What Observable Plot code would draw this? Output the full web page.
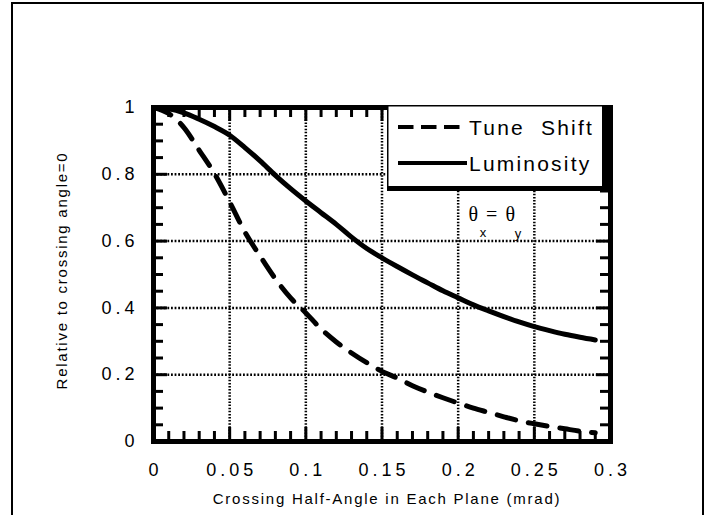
<!DOCTYPE html>
<html>
<head>
<meta charset="utf-8">
<script src="https://cdn.jsdelivr.net/npm/d3@7"></script>
<script src="https://cdn.jsdelivr.net/npm/@observablehq/plot@0.6"></script>
<style>
  html, body { margin: 0; padding: 0; background: #fff; overflow: hidden; }
  #wrap { position: relative; width: 722px; height: 515px; overflow: hidden; }
  #outer { position: absolute; left: 11px; top: 2px; width: 693px; height: 540px; border: 2px solid #000; border-bottom: none; box-sizing: border-box; }
  #legend { position: absolute; left: 387px; top: 105px; }
  #legend text { font-family: "Liberation Sans", Arial, sans-serif; font-size: 21px; letter-spacing: 2.2px; }
</style>
</head>
<body>
<div id="wrap"><div id="outer"></div></div>
<script>
// ---- data ----
const angle = [0, 0.01, 0.02, 0.03, 0.04, 0.05, 0.06, 0.07, 0.08, 0.09, 0.10, 0.11, 0.12, 0.13, 0.14,
               0.15, 0.16, 0.17, 0.18, 0.19, 0.20, 0.21, 0.22, 0.23, 0.24, 0.25, 0.26, 0.27, 0.28, 0.29];
const tuneShift = [1.0, 0.982, 0.94, 0.872, 0.802, 0.717, 0.627, 0.555, 0.487, 0.43, 0.385, 0.337, 0.298, 0.265, 0.236,
                   0.21, 0.19, 0.167, 0.148, 0.131, 0.115, 0.1, 0.087, 0.074, 0.062, 0.053, 0.045, 0.038, 0.031, 0.026];
const luminosity = [1.0, 0.996, 0.984, 0.965, 0.943, 0.917, 0.88, 0.84, 0.797, 0.757, 0.72, 0.685, 0.65, 0.612, 0.578,
                    0.55, 0.524, 0.499, 0.475, 0.451, 0.43, 0.409, 0.391, 0.374, 0.358, 0.344, 0.332, 0.321, 0.312, 0.304];
const seriesNames = ["Tune  Shift", "Luminosity"];

const xTicks = [0, 0.05, 0.1, 0.15, 0.2, 0.25, 0.3];
const xTickLabels = ["0", "0.05", "0.1", "0.15", "0.2", "0.25", "0.3"];
const yTicks = [0, 0.2, 0.4, 0.6, 0.8, 1];
const yTickLabels = ["0", "0.2", "0.4", "0.6", "0.8", "1"];
const xGrid = [0.05, 0.1, 0.15, 0.2, 0.25];
const yGrid = [0.2, 0.4, 0.6, 0.8];
const xMinor = [0.01, 0.02, 0.03, 0.04, 0.06, 0.07, 0.08, 0.09, 0.11, 0.12, 0.13, 0.14, 0.16, 0.17, 0.18, 0.19,
                0.21, 0.22, 0.23, 0.24, 0.26, 0.27, 0.28, 0.29];
const yMinor = [0.05, 0.1, 0.15, 0.25, 0.3, 0.35, 0.45, 0.5, 0.55, 0.65, 0.7, 0.75, 0.85, 0.9, 0.95];
const xTitle = ["Crossing Half-Angle in Each Plane (mrad)"];
const yTitle = ["Relative to crossing angle=0"];
const thetaText = ["θ = θ"];
const thetaSubs = ["x", "y"];

// ---- layout ----
const W = 722, H = 515;
const mL = 153, mR = 112, mT = 107, mB = 74;
const innerW = W - mL - mR, innerH = H - mT - mB;

const tuneRows = angle.map((a, i) => ({a, v: tuneShift[i]}));
const lumRows = angle.map((a, i) => ({a, v: luminosity[i]}));
const sans = "Liberation Sans, Arial, sans-serif";

const tickStyle = {stroke: "#000", strokeWidth: 3};
const minorLen = 10, majorLen = 14;

const chart = Plot.plot({
  width: W, height: H,
  marginLeft: mL, marginRight: mR, marginTop: mT, marginBottom: mB,
  style: {background: "#fff", fontFamily: sans, color: "#000"},
  x: {domain: [0, 0.3], axis: null},
  y: {domain: [0, 1], axis: null},
  marks: [
    Plot.gridX(xGrid, {stroke: "#000", strokeOpacity: 1, strokeWidth: 2.5, strokeDasharray: "1.5,1.6"}),
    Plot.gridY(yGrid, {stroke: "#000", strokeOpacity: 1, strokeWidth: 2.5, strokeDasharray: "1.8,1.8"}),
    // inward ticks
    Plot.tickX(xMinor, {x: d => d, insetTop: innerH - minorLen, ...tickStyle}),
    Plot.tickX(xMinor, {x: d => d, insetBottom: innerH - minorLen, ...tickStyle}),
    Plot.tickX(xGrid, {x: d => d, insetTop: innerH - majorLen, ...tickStyle}),
    Plot.tickX(xGrid, {x: d => d, insetBottom: innerH - majorLen, ...tickStyle}),
    Plot.tickY(yMinor, {y: d => d, insetRight: innerW - minorLen, ...tickStyle}),
    Plot.tickY(yMinor, {y: d => d, insetLeft: innerW - minorLen, ...tickStyle}),
    Plot.tickY(yGrid, {y: d => d, insetRight: innerW - majorLen, ...tickStyle}),
    Plot.tickY(yGrid, {y: d => d, insetLeft: innerW - majorLen, ...tickStyle}),
    Plot.frame({stroke: "#000", strokeWidth: 5}),
    // curves
    Plot.line(lumRows, {x: "a", y: "v", stroke: "#000", strokeWidth: 5, curve: "monotone-x"}),
    Plot.line(tuneRows, {x: "a", y: "v", stroke: "#000", strokeWidth: 5, strokeDasharray: "19,13", curve: "monotone-x"}),
    // tick labels
    Plot.text(xTicks, {x: d => d, text: (d, i) => xTickLabels[i], frameAnchor: "bottom", lineAnchor: "middle",
      dy: 29, dx: 2, fontSize: 18, fill: "#000"}),
    Plot.text(yTicks, {y: d => d, text: (d, i) => yTickLabels[i], frameAnchor: "left", dx: -15, textAnchor: "end",
      lineAnchor: "middle", fontSize: 18, fill: "#000"}),
    // axis titles
    Plot.text(xTitle, {text: d => d, frameAnchor: "bottom", lineAnchor: "middle", textAnchor: "middle",
      dy: 58, dx: 5, fontSize: 15, fill: "#000"}),
    Plot.text(yTitle, {text: d => d, frameAnchor: "left", lineAnchor: "middle", textAnchor: "middle",
      dx: -91, dy: -4, rotate: -90, fontSize: 15, fill: "#000"}),
    // annotation
    Plot.text(thetaText, {text: d => d, x: 0.2068, y: 0.6796, textAnchor: "start", lineAnchor: "middle", fontSize: 20,
      fontFamily: "Liberation Serif, Times New Roman, serif", fill: "#000"}),
    Plot.text(thetaSubs, {text: d => d, x: (d, i) => [0.2163, 0.2393][i], y: (d, i) => [0.6257, 0.6228][i],
      fontSize: 13, fill: "#000"})
  ]
});

// letter spacing of the typeset original
d3.select(chart).selectAll("text").each(function () {
  const t = this.textContent;
  if (xTickLabels.includes(t) || yTickLabels.includes(t)) this.style.letterSpacing = "4px";
  else if (t === xTitle[0] || t === yTitle[0]) this.style.letterSpacing = "1.75px";
  else if (t === thetaText[0]) this.style.letterSpacing = "1.5px";
});

const wrap = document.getElementById("wrap");
wrap.insertBefore(chart, wrap.firstChild);
chart.style.position = "absolute";
chart.style.left = "0px";
chart.style.top = "0px";

// legend (inside plot, upper right)
const lg = d3.select(wrap).append("svg").attr("id", "legend").attr("width", 223).attr("height", 86);
lg.append("rect").attr("x", 0).attr("y", 0).attr("width", 223).attr("height", 86).attr("fill", "#fff");
lg.append("rect").attr("x", 0.75).attr("y", 0.75).attr("width", 215).attr("height", 82)
  .attr("fill", "none").attr("stroke", "#000").attr("stroke-width", 1.5);
lg.append("rect").attr("x", 215).attr("y", 0).attr("width", 8).attr("height", 86).attr("fill", "#000");
lg.append("rect").attr("x", 0).attr("y", 81).attr("width", 223).attr("height", 5).attr("fill", "#000");
const rowsY = [22, 58];
seriesNames.forEach((name, i) => {
  lg.append("line").attr("x1", 11).attr("x2", 80).attr("y1", rowsY[i]).attr("y2", rowsY[i])
    .attr("stroke", "#000").attr("stroke-width", 4)
    .attr("stroke-dasharray", i === 0 ? "15.5,7.5" : null);
  lg.append("text").attr("x", 82).attr("y", rowsY[i]).attr("dy", "0.36em")
    .attr("xml:space", "preserve").style("white-space", "pre").text(name);
});
</script>
</body>
</html>
